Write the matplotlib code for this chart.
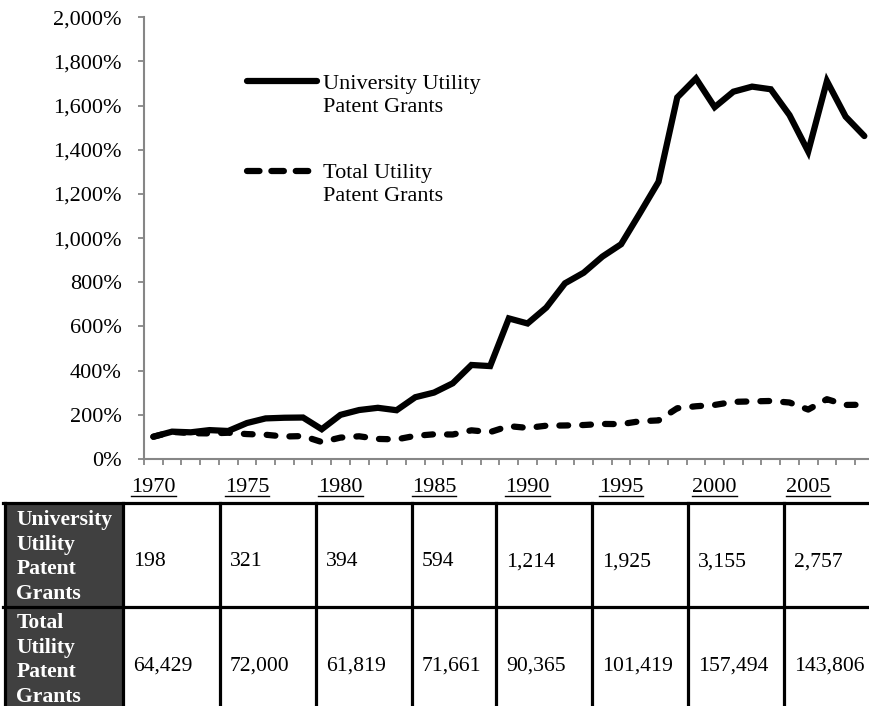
import matplotlib
matplotlib.use("Agg")
import matplotlib.pyplot as plt
from matplotlib.lines import Line2D
from matplotlib.patches import Rectangle
from matplotlib.ticker import FuncFormatter, FixedLocator
import numpy as np

plt.rcParams['font.family'] = ['Liberation Serif', 'DejaVu Serif']

years = list(range(1970, 2009))
university_pct = [100, 123, 120, 130, 126, 162, 183, 186, 187, 134,
                  199, 221, 231, 220, 279, 300, 342, 425, 420, 636,
                  613, 685, 795, 843, 916, 972, 1112, 1255, 1637, 1723,
                  1593, 1663, 1686, 1674, 1557, 1392, 1711, 1550, 1462]
total_pct = [100, 122, 116, 115, 118, 112, 109, 101, 103, 76,
             96, 102, 90, 88, 104, 111, 110, 129, 121, 148,
             140, 150, 151, 153, 158, 157, 170, 174, 229, 238,
             244, 258, 260, 262, 255, 223, 270, 244, 245]
label_years = [1970, 1975, 1980, 1985, 1990, 1995, 2000, 2005]
row_labels = ["University\nUtility\nPatent\nGrants", "Total\nUtility\nPatent\nGrants"]
university_counts = ["198", "321", "394", "594", "1,214", "1,925", "3,155", "2,757"]
total_counts = ["64,429", "72,000", "61,819", "71,661", "90,365", "101,419", "157,494", "143,806"]
series_names = ["University Utility\nPatent Grants", "Total Utility\nPatent Grants"]

W, H = 870, 706
fig = plt.figure(figsize=(W / 100, H / 100), dpi=100)

def px_rect(l, t, r, b):
    return [l / W, 1 - b / H, (r - l) / W, (b - t) / H]

FS = 16
TFS = 15.6

ax = fig.add_axes(px_rect(144, 17.3, 873.7, 458.8))
x = np.arange(len(years))
lw = 4.5
ax.plot(x, university_pct, color='black', lw=lw, solid_joinstyle='miter',
        solid_capstyle='round')
ax.plot(x, total_pct, color='black', lw=lw, dashes=(1.4, 2.25),
        dash_capstyle='round', dash_joinstyle='round')
ax.set_xlim(-0.5, len(years) - 0.5)
ax.set_ylim(0, 2000)
ax.yaxis.set_major_locator(FixedLocator(np.arange(0, 2001, 200)))
ax.yaxis.set_major_formatter(FuncFormatter(lambda v, p: f"{int(v):,}%"))
ax.xaxis.set_major_locator(FixedLocator(np.arange(-0.5, len(years), 1.0)))
ax.set_xticklabels([])
axis_gray = '#868686'
for s in ['top', 'right']:
    ax.spines[s].set_visible(False)
for s in ['left', 'bottom']:
    ax.spines[s].set_color(axis_gray)
    ax.spines[s].set_linewidth(1.5)
ax.tick_params(axis='both', colors=axis_gray, width=1.3, length=4.5, direction='out')
ax.tick_params(axis='y', labelcolor='black', labelsize=FS, pad=11.5)
ax.tick_params(axis='x', labelcolor='black')

# overlay in pixel coords
ov = fig.add_axes([0, 0, 1, 1])
ov.set_xlim(0, W)
ov.set_ylim(H, 0)
ov.axis('off')
ov.patch.set_alpha(0)

# legend
ov.add_line(Line2D([247, 317], [81, 81], color='black', lw=lw, solid_capstyle='round'))
ov.add_line(Line2D([247, 309], [171, 171], color='black', lw=lw, dashes=(2.0, 1.9),
                   dash_capstyle='round'))
for name, ybase in zip(series_names, [89.5, 178.3]):
    for i, line in enumerate(name.split("\n")):
        ov.text(323, ybase + i * 23, line, fontsize=FS, va='baseline', ha='left')

# year labels (underlined)
fig.canvas.draw()
renderer = fig.canvas.get_renderer()
for yr in label_years:
    xd = years.index(yr)
    xp = ax.transData.transform((xd, 0))[0]
    t = ov.text(xp, 492.5, str(yr), fontsize=FS, ha='center', va='baseline')
    bb = t.get_window_extent(renderer)
    ov.add_line(Line2D([bb.x0, bb.x1], [495.5, 495.5], color='black', lw=1.0))

# table
col_edges = [5, 123, 220, 316, 412, 496, 592, 688, 784, 890]
row_edges = [502.5, 607, 712]
border = 2.3
ov.add_patch(Rectangle((col_edges[0], row_edges[0]), col_edges[1] - col_edges[0],
                       row_edges[2] - row_edges[0], facecolor='#404040', edgecolor='none'))
for yv in row_edges[:2]:
    ov.add_line(Line2D([col_edges[0] - 1.5, col_edges[-1]], [yv, yv], color='black', lw=border))
for xv in col_edges[:-1]:
    ov.add_line(Line2D([xv, xv], [row_edges[0], row_edges[2]], color='black', lw=border))

first_offsets = [22.3, 21.3]
spacings = [24.8, 24.4]
for r, (lab, vals) in enumerate(zip(row_labels, [university_counts, total_counts])):
    top = row_edges[r]
    for i, line in enumerate(lab.split("\n")):
        ov.text(col_edges[0] + 11.5, top + first_offsets[r] + i * spacings[r], line,
                fontsize=TFS, fontweight='bold', color='white', va='baseline', ha='left')
    for c, v in enumerate(vals):
        ov.text(col_edges[c + 1] + 10, top + 64, v, fontsize=TFS, va='baseline', ha='left')

fig.savefig("out.png", dpi=100)
